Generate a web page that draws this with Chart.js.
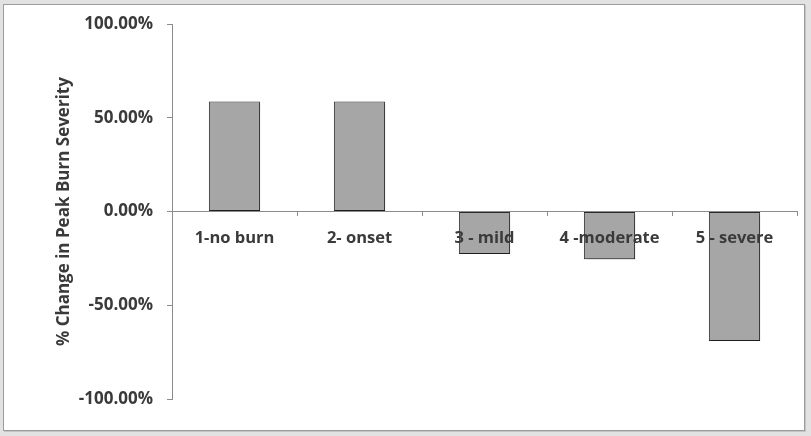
<!DOCTYPE html>
<html>
<head>
<meta charset="utf-8">
<script src="https://cdn.jsdelivr.net/npm/chart.js@4.4.1/dist/chart.umd.min.js"></script>
<style>
  html, body { margin: 0; padding: 0; background: #e2e2e2; }
  #frame {
    position: absolute; left: 3px; top: 4px; width: 800px; height: 425px;
    background: #fff; border: 1px solid #9c9c9c;
    box-shadow: 1px 1px 0 #c4c4c4;
  }
  #wrap { position: absolute; left: 0; top: 0; width: 811px; height: 436px; }
</style>
</head>
<body>
<div id="frame"></div>
<div id="wrap"><canvas id="burnChart"></canvas></div>
<script>
// categories and values (percent change)
const categories = ['1-no burn', '2- onset', '3 - mild', '4 -moderate', '5 - severe'];
const changeValues = [58.8, 58.8, -22.6, -25.4, -69.0];
const yTicks = [-100, -50, 0, 50, 100];

const textColor = '#3a3a3a';
const axisColor = '#8c8c8c';
const fontFamily = '"Open Sans", Lato, sans-serif';

// soft shadow under the bars, like the Excel original
const barShadow = {
  id: 'barShadow',
  beforeDatasetsDraw(chart) {
    const ctx = chart.ctx;
    ctx.save();
    ctx.shadowColor = 'rgba(0,0,0,0.35)';
    ctx.shadowOffsetX = 2;
    ctx.shadowOffsetY = 2;
    ctx.shadowBlur = 2;
  },
  afterDatasetsDraw(chart) {
    chart.ctx.restore();
  }
};

const ctx = document.getElementById('burnChart');

const burnChart = new Chart(ctx, {
  type: 'bar',
  data: {
    labels: categories,
    datasets: [{
      label: '% Change',
      data: changeValues,
      backgroundColor: '#a6a6a6',
      borderColor: '#2a2a2a',
      borderWidth: 1,
      borderSkipped: false,
      barPercentage: 0.41,
      categoryPercentage: 1
    }]
  },
  options: {
    responsive: true,
    maintainAspectRatio: false,
    animation: false,
    layout: { padding: { left: 44, right: 14, top: 21, bottom: 37 } },
    plugins: {
      legend: { display: false },
      tooltip: { enabled: false }
    },
    scales: {
      x: {
        position: { y: 0 },
        grid: {
          offset: true,
          drawOnChartArea: false,
          drawTicks: true,
          tickLength: 4,
          color: axisColor
        },
        border: { color: axisColor, width: 1 },
        ticks: {
          z: 1, // labels sit on top of the bars
          color: textColor,
          padding: 13,
          maxRotation: 0,
          font: { family: fontFamily, size: 16.5, weight: 'bold' }
        }
      },
      y: {
        min: -100,
        max: 100,
        afterBuildTicks(scale) {
          scale.ticks = yTicks.map(v => ({ value: v }));
        },
        afterFit(scale) {
          scale.width = 128;
        },
        grid: {
          drawOnChartArea: false,
          drawTicks: true,
          tickLength: 5,
          color: axisColor
        },
        border: { color: axisColor, width: 1 },
        ticks: {
          color: textColor,
          padding: 14,
          font: { family: fontFamily, size: 17, weight: 'bold' },
          callback: v => v.toFixed(2) + '%'
        },
        title: {
          display: true,
          text: '% Change in Peak Burn Severity',
          color: textColor,
          padding: { top: 10, bottom: 0 },
          font: { family: fontFamily, size: 17, weight: 'bold' }
        }
      }
    }
  },
  plugins: [barShadow]
});
</script>
</body>
</html>
